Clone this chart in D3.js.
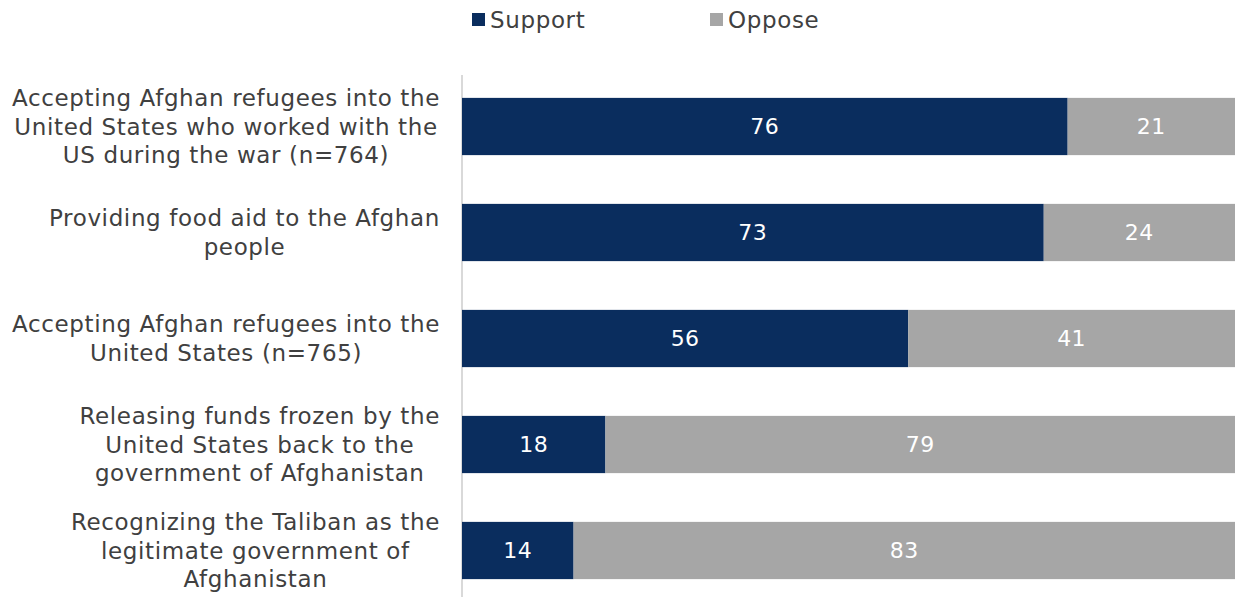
<!DOCTYPE html>
<html>
<head>
<meta charset="utf-8">
<script src="https://cdn.jsdelivr.net/npm/d3@7"></script>
<style>
  body { margin: 0; background: #fff; }
  svg { display: block; font-family: "DejaVu Sans", sans-serif; }
</style>
</head>
<body>
<svg id="chart" width="1235" height="597"></svg>
<script>
// data
var categories = [
  ["Accepting Afghan refugees into the", "United States who worked with the", "US during the war (n=764)"],
  ["Providing food aid to the Afghan", "people"],
  ["Accepting Afghan refugees into the", "United States (n=765)"],
  ["Releasing funds frozen by the", "United States back to the", "government of Afghanistan"],
  ["Recognizing the Taliban as the", "legitimate government of", "Afghanistan"]
];
var support = [76, 73, 56, 18, 14];
var oppose = [21, 24, 41, 79, 83];
var seriesNames = ["Support", "Oppose"];
var colors = ["#0a2d5e", "#a6a6a6"];

var W = 1235, H = 597;
var L = 462, R = 0;

var vis = d3.select("#chart");

var xScale = d3.scaleLinear().domain([0, 97]).range([L, W - R]);
var yScale = d3.scaleBand().domain(d3.range(categories.length))
    .range([73.5, 603.5]).paddingInner(0.46).paddingOuter(0.23);

// axis line
vis.append("line")
    .attr("x1", L).attr("x2", L)
    .attr("y1", 75).attr("y2", H)
    .attr("stroke", "#d9d9d9").attr("stroke-width", 2);

// bars
var rows = categories.map(function(c, i) {
  return [
    { x0: 0, x1: support[i], v: support[i], s: 0 },
    { x0: support[i], x1: support[i] + oppose[i], v: oppose[i], s: 1 }
  ];
});

rows.forEach(function(segs, i) {
  var g = vis.append("g");
  g.selectAll("rect").data(segs).enter().append("rect")
      .attr("x", function(d) { return xScale(d.x0); })
      .attr("width", function(d) { return xScale(d.x1) - xScale(d.x0); })
      .attr("y", yScale(i))
      .attr("height", yScale.bandwidth())
      .attr("fill", function(d) { return colors[d.s]; });
  g.selectAll("text").data(segs).enter().append("text")
      .attr("x", function(d) { return (xScale(d.x0) + xScale(d.x1)) / 2; })
      .attr("y", yScale(i) + yScale.bandwidth() / 2)
      .attr("dy", "0.36em")
      .attr("text-anchor", "middle")
      .attr("fill", "#fff")
      .attr("font-size", 22)
      .attr("letter-spacing", 0.5)
      .text(function(d) { return d.v; });
});

// category labels: centered block, right edge at 440
var lineH = 28.5;
categories.forEach(function(lines, i) {
  var cy = yScale(i) + yScale.bandwidth() / 2;
  var t = vis.append("text")
      .attr("fill", "#404040")
      .attr("font-size", 23)
      .attr("letter-spacing", 0.63)
      .attr("text-anchor", "middle");
  var spans = lines.map(function(s, j) {
    return t.append("tspan")
        .attr("y", cy + (j - (lines.length - 1) / 2) * lineH)
        .attr("dy", "0.35em")
        .text(s);
  });
  var maxW = d3.max(spans, function(sp) { return sp.node().getComputedTextLength(); });
  spans.forEach(function(sp) { sp.attr("x", 440 - maxW / 2); });
});

// legend
var legendX = [472, 710];
seriesNames.forEach(function(name, i) {
  vis.append("rect")
      .attr("x", legendX[i]).attr("y", 13)
      .attr("width", 13).attr("height", 13)
      .attr("fill", colors[i]);
  vis.append("text")
      .attr("x", legendX[i] + 18).attr("y", 20)
      .attr("dy", "0.35em")
      .attr("fill", "#404040")
      .attr("font-size", 23)
      .attr("letter-spacing", 0.63)
      .text(name);
});
</script>
</body>
</html>
